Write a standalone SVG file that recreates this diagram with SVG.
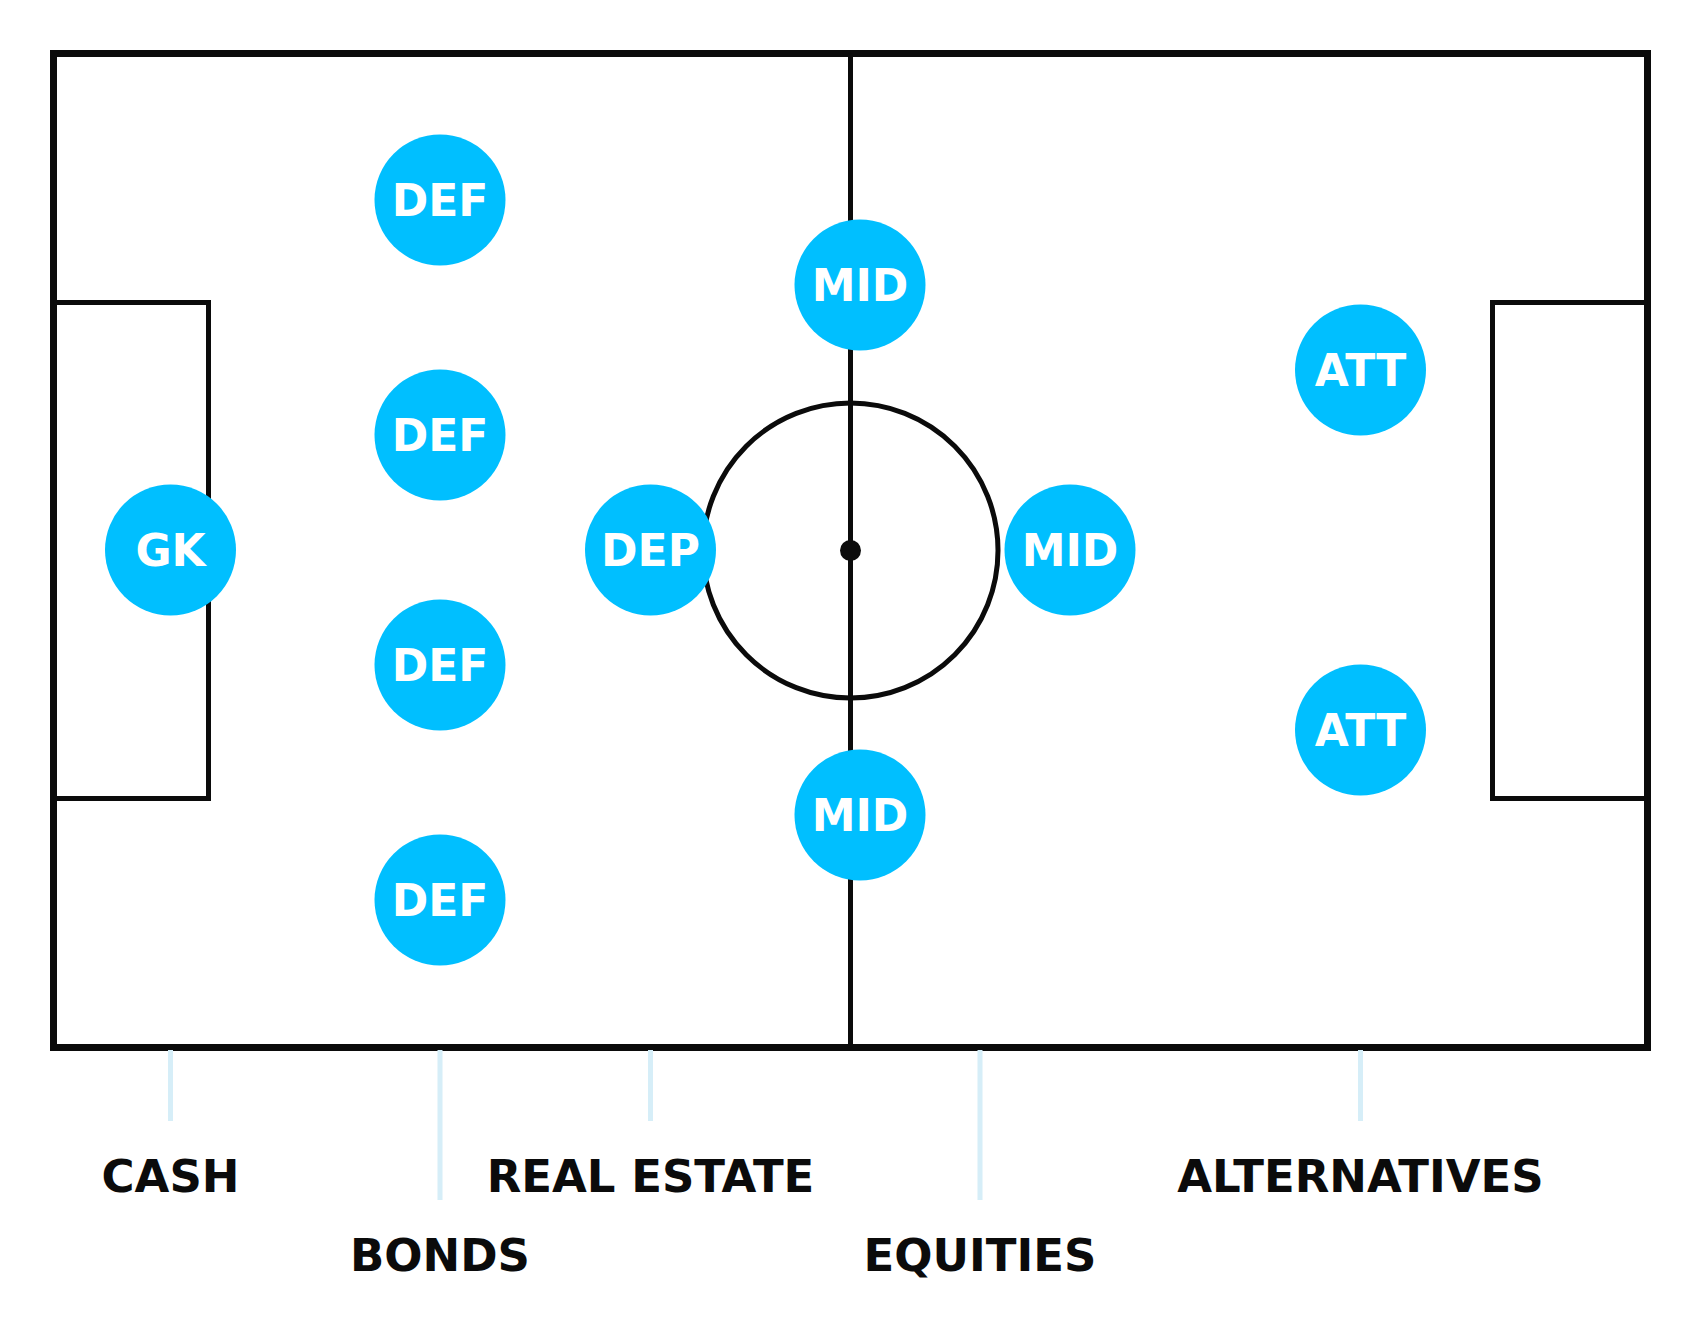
<svg xmlns="http://www.w3.org/2000/svg" width="1700" height="1340" viewBox="0 0 1700 1340">
<style>
.line{fill:none;stroke:#0b0b0b;stroke-width:5}
.outer{fill:none;stroke:#0b0b0b;stroke-width:7}
.node circle{fill:#00bfff}
.node text{fill:#ffffff;font-family:"DejaVu Sans",sans-serif;font-weight:bold;font-size:44px;text-anchor:middle}
.tick{stroke:#d6eef8;stroke-width:5}
.label{fill:#0b0b0b;font-family:"DejaVu Sans",sans-serif;font-weight:bold;font-size:45px;text-anchor:middle}
</style>
<rect width="1700" height="1340" fill="#ffffff"/>
<g id="pitch">
<rect class="outer" x="53.5" y="53.5" width="1594" height="994"/>
<line class="line" x1="850.5" y1="53.5" x2="850.5" y2="1047.5"/>
<circle class="line" cx="850.5" cy="550.5" r="147.5"/>
<circle cx="850.5" cy="550.5" r="10.5" fill="#0b0b0b"/>
<polyline class="line" points="53.5,302.5 208.5,302.5 208.5,798.5 53.5,798.5"/>
<polyline class="line" points="1647.5,302.5 1492.5,302.5 1492.5,798.5 1647.5,798.5"/>
</g>
<g id="connectors">
<line class="tick" x1="170.5" y1="1050" x2="170.5" y2="1121"/>
<line class="tick" x1="440" y1="1050" x2="440" y2="1200"/>
<line class="tick" x1="650.5" y1="1050" x2="650.5" y2="1121"/>
<line class="tick" x1="980" y1="1050" x2="980" y2="1200"/>
<line class="tick" x1="1360.5" y1="1050" x2="1360.5" y2="1121"/>
</g>
<g id="gk" class="node"><circle cx="170.5" cy="550" r="65.5"/><text x="170.5" y="566">GK</text></g>
<g id="def1" class="node"><circle cx="440" cy="200" r="65.5"/><text x="440" y="216">DEF</text></g>
<g id="def2" class="node"><circle cx="440" cy="435" r="65.5"/><text x="440" y="451">DEF</text></g>
<g id="def3" class="node"><circle cx="440" cy="665" r="65.5"/><text x="440" y="681">DEF</text></g>
<g id="def4" class="node"><circle cx="440" cy="900" r="65.5"/><text x="440" y="916">DEF</text></g>
<g id="dep" class="node"><circle cx="650.5" cy="550" r="65.5"/><text x="650.5" y="566">DEP</text></g>
<g id="mid1" class="node"><circle cx="860" cy="285" r="65.5"/><text x="860" y="301">MID</text></g>
<g id="mid2" class="node"><circle cx="1070" cy="550" r="65.5"/><text x="1070" y="566">MID</text></g>
<g id="mid3" class="node"><circle cx="860" cy="815" r="65.5"/><text x="860" y="831">MID</text></g>
<g id="att1" class="node"><circle cx="1360.5" cy="370" r="65.5"/><text x="1360.5" y="386">ATT</text></g>
<g id="att2" class="node"><circle cx="1360.5" cy="730" r="65.5"/><text x="1360.5" y="746">ATT</text></g>
<g id="labels">
<text class="label" x="170.5" y="1192">CASH</text>
<text class="label" x="440" y="1271">BONDS</text>
<text class="label" x="650.5" y="1192">REAL ESTATE</text>
<text class="label" x="980" y="1271">EQUITIES</text>
<text class="label" x="1360.5" y="1192">ALTERNATIVES</text>
</g>
</svg>
